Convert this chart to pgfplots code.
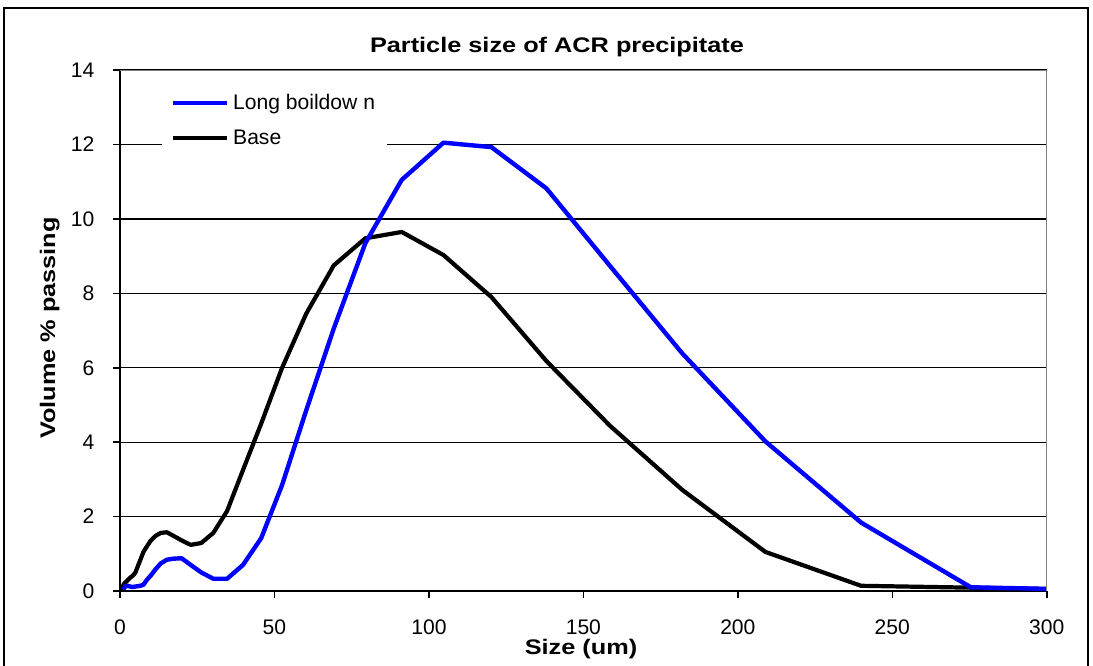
\documentclass[border=0pt]{standalone}
\usepackage{fontspec}
\setmainfont{Liberation Sans}
\usepackage{graphicx}
\usepackage{pgfplots}
\usepackage{pgfplotstable}
\pgfplotsset{compat=1.18}

\pgfplotstableread{
x y
1.10 0.04
1.26 0.07
1.45 0.09
1.66 0.11
1.91 0.13
2.19 0.14
2.51 0.14
2.88 0.13
3.31 0.12
3.80 0.11
4.37 0.11
5.01 0.12
5.75 0.13
6.61 0.14
7.59 0.17
8.71 0.30
10.00 0.42
11.48 0.58
13.18 0.74
15.14 0.84
17.38 0.87
19.95 0.88
22.91 0.70
26.30 0.50
30.20 0.33
34.67 0.33
39.81 0.70
45.71 1.42
52.48 2.85
60.26 4.85
69.18 7.05
79.43 9.35
91.20 11.05
104.71 12.05
120.23 11.93
138.04 10.82
158.49 8.75
181.97 6.39
208.93 4.02
239.88 1.84
275.42 0.10
316.23 0.03
}\boildown

\pgfplotstableread{
x y
0.48 0.03
0.63 0.08
0.83 0.12
1.10 0.16
1.45 0.21
1.91 0.24
2.51 0.29
3.31 0.36
3.80 0.39
4.37 0.43
5.01 0.50
5.75 0.66
6.61 0.84
7.59 1.05
8.71 1.20
10.00 1.36
11.48 1.48
13.18 1.56
15.14 1.58
17.38 1.48
19.95 1.36
22.91 1.24
26.30 1.29
30.20 1.56
34.67 2.15
39.81 3.25
45.71 4.50
52.48 6.00
60.26 7.45
69.18 8.75
79.43 9.48
91.20 9.65
104.71 9.03
120.23 7.90
138.04 6.18
158.49 4.45
181.97 2.72
208.93 1.05
239.88 0.14
275.42 0.09
316.23 0.03
}\base

\begin{document}
\begin{tikzpicture}[x=0.02cm,y=0.02cm]
\path[use as bounding box] (0,0) rectangle (1093,666);
\draw[line width=1.2pt] (4,-20) -- (4,658) -- (1088,658) -- (1088,-20);

\begin{axis}[
    at={(2.4cm,1.5cm)}, anchor=south west,
    scale only axis,
    width=18.54cm, height=10.42cm,
    xmin=0, xmax=300, ymin=0, ymax=14,
    xtick={0,50,...,300},
    ytick={0,2,...,14},
    axis lines*=left,
    axis line style={line width=1.1pt},
    tick align=outside,
    major tick length=4pt,
    tick style={black, line width=0.9pt},
    ymajorgrids,
    grid style={black, line width=0.7pt},
    /pgf/number format/assume math mode=true,
    ticklabel style={font=\fontsize{12}{14}\selectfont},
    xticklabel style={yshift=-9pt},
    yticklabel style={xshift=-7pt},
    legend style={at={(0.045,0.975)}, anchor=north west, draw=none, fill=white,
        font=\fontsize{12}{14}\selectfont, inner xsep=5pt, inner ysep=4pt,
        row sep=6pt},
    legend cell align=left,
    legend image code/.code={\draw[#1] (0pt,0pt) -- (31pt,0pt);},
    reverse legend,
    clip=true,
]
\addplot[black, line width=2.4pt, line join=round] table {\base};
\addlegendentry{Base}
\addplot[blue, line width=2.5pt, line join=round] table {\boildown};
\addlegendentry{Long boildow n}
\draw[gray, line width=1.1pt] (rel axis cs:0,1) -- (rel axis cs:1,1) -- (rel axis cs:1,0);
\end{axis}

\node[anchor=base, font=\fontsize{12}{14}\selectfont\bfseries] at (557,613)
    {\scalebox{1.2}[1]{Particle size of ACR precipitate}};
\node[anchor=base, font=\fontsize{12}{14}\selectfont\bfseries] at (581,11)
    {\scalebox{1.2}[1]{Size (um)}};
\node[anchor=base, rotate=90, font=\fontsize{12}{14}\selectfont\bfseries] at (55,338)
    {\scalebox{1.2}[1]{Volume \% passing}};
\end{tikzpicture}
\end{document}
